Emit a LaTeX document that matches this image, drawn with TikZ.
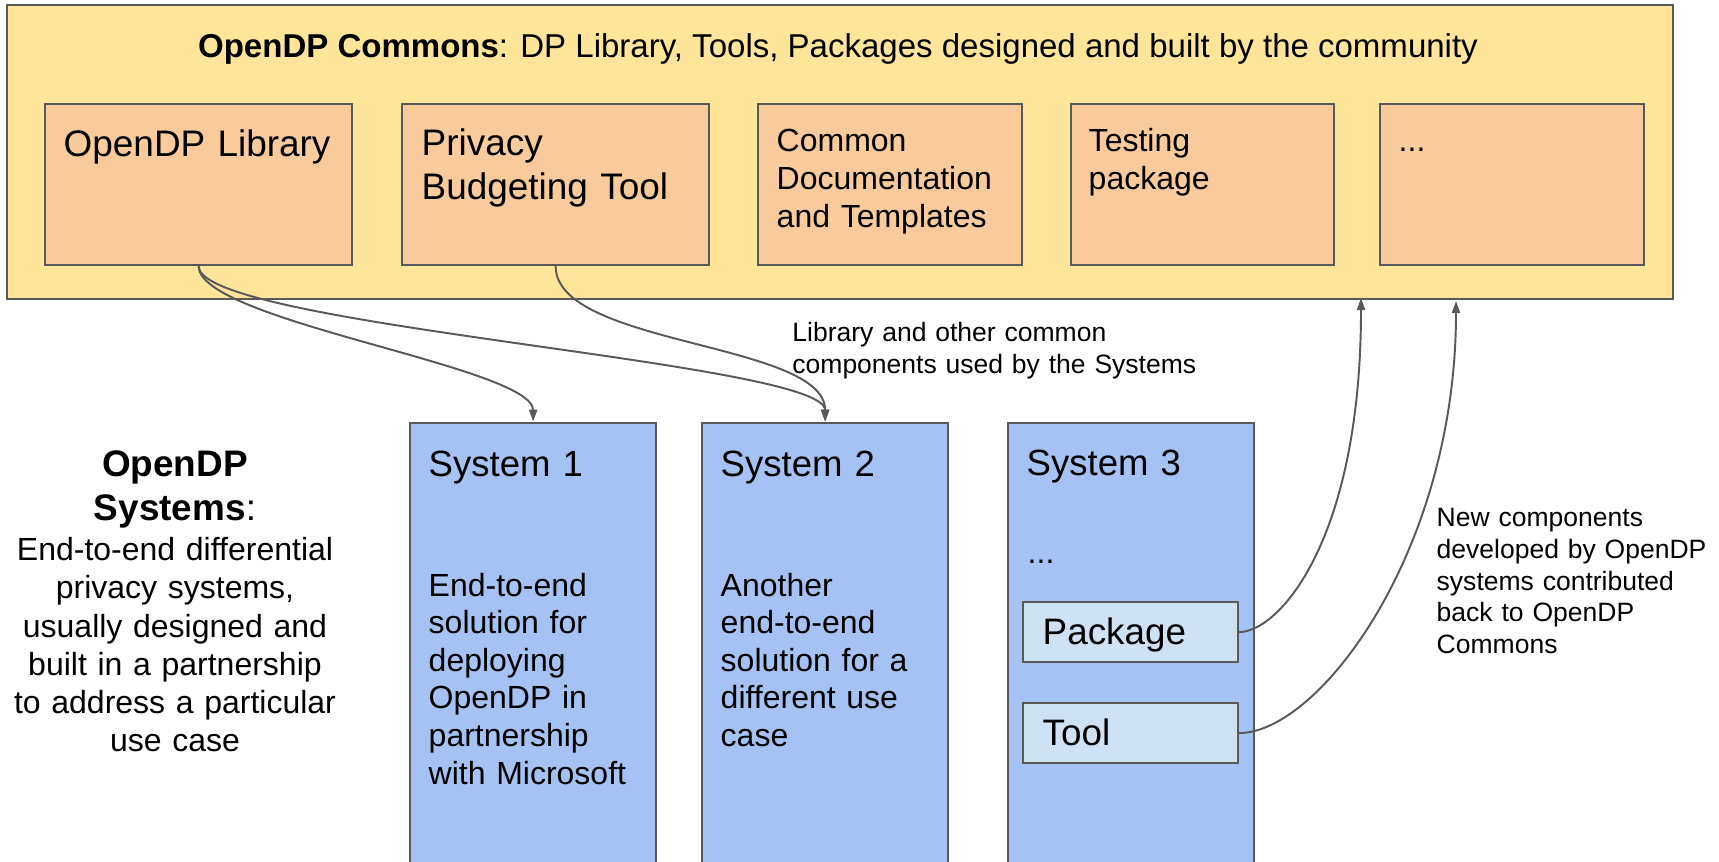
\documentclass[tikz,border=0pt]{standalone}
\usepackage{fontspec}
\setmainfont{Liberation Sans}
\usepackage{tikz}
\usetikzlibrary{arrows.meta}
\usepackage{xcolor}
\definecolor{dpyellow}{RGB}{255,229,153}
\definecolor{dporange}{RGB}{249,203,156}
\definecolor{dpblue}{RGB}{164,194,244}
\definecolor{dplightblue}{RGB}{207,226,243}
\definecolor{dpgray}{RGB}{89,89,89}
\tikzstyle{panel} = [rectangle, draw=dpgray, line width=0.6pt, inner sep=0pt, anchor=north west]
\tikzstyle{commonsbox} = [panel, fill=dpyellow, minimum width=16.655cm, minimum height=2.94cm]
\tikzstyle{partbox} = [panel, fill=dporange, minimum height=1.607cm]
\tikzstyle{sysbox} = [panel, fill=dpblue, minimum width=2.46cm, minimum height=5cm]
\tikzstyle{compbox} = [panel, fill=dplightblue, minimum width=2.145cm, minimum height=0.6cm]
\tikzstyle{txt} = [anchor=base west, inner sep=0pt, text width=4cm, align=left]
\tikzstyle{bigtxt} = [txt, font=\fontsize{10.5}{12.5}\selectfont]
\tikzstyle{smalltxt} = [txt, font=\fontsize{9.1}{10.7}\selectfont]
\tikzstyle{note} = [txt, font=\fontsize{7.54}{9.02}\selectfont]
\tikzstyle{arrow} = [draw=dpgray, line width=0.55pt, -{Triangle[length=0.12cm,width=0.08cm]}]

\begin{document}
\begin{tikzpicture}[x=0.01cm, y=-0.01cm]
\useasboundingbox (0,0) rectangle (1719,861);
\clip (0,0) rectangle (1719,861);

% OpenDP Commons
\node (commons) [commonsbox] at (5.5,4) {};
\node (commonstitle) [anchor=base, inner sep=0pt, font=\fontsize{9.39}{11}\selectfont] at (838,58)
  {\textbf{OpenDP Commons}: DP Library, Tools, Packages designed and built by the community};

\node (lib) [partbox, minimum width=3.07cm] at (44,103.3) {};
\node (budget) [partbox, minimum width=3.07cm] at (401,103.3) {};
\node (docs) [partbox, minimum width=2.64cm] at (757,103.3) {};
\node (testing) [partbox, minimum width=2.63cm] at (1070,103.3) {};
\node (more) [partbox, minimum width=2.64cm] at (1379,103.3) {};

\node (libtxt) [bigtxt] at (63,157) {OpenDP Library};
\node (budgettxt) [bigtxt] at (421,156) {Privacy\\Budgeting Tool};
\node (docstxt) [smalltxt] at (776,152) {Common\\Documentation\\and Templates};
\node (testingtxt) [smalltxt] at (1088,152) {Testing\\package};
\node (moretxt) [smalltxt] at (1398,152) {...};

% OpenDP Systems
\node (sysheading) [txt, anchor=base, text width=3.4cm, align=center, font=\fontsize{10.5}{12.5}\selectfont] at (175,476.7)
  {\textbf{OpenDP}\\\textbf{Systems}:};
\node (sysdesc) [txt, anchor=base, text width=3.4cm, align=center, font=\fontsize{9.1}{10.87}\selectfont] at (175,560.7)
  {End-to-end differential\\privacy systems,\\usually designed and\\built in a partnership\\to address a particular\\use case};

\node (sys1) [sysbox] at (409,421.7) {};
\node (sys2) [sysbox] at (701,421.7) {};
\node (sys3) [sysbox, minimum width=2.465cm] at (1006.5,421.7) {};

\node (sys1title) [bigtxt, font=\fontsize{10.39}{12.5}\selectfont] at (428,476) {System 1};
\node (sys1txt) [smalltxt] at (428,596) {End-to-end\\solution for\\deploying\\OpenDP in\\partnership\\with Microsoft};
\node (sys2title) [bigtxt, font=\fontsize{10.39}{12.5}\selectfont] at (720,476) {System 2};
\node (sys2txt) [smalltxt] at (720,596) {Another\\end-to-end\\solution for a\\different use\\case};
\node (sys3title) [bigtxt, font=\fontsize{10.39}{12.5}\selectfont] at (1026,475) {System 3};
\node (sys3dots) [smalltxt] at (1027,563) {...};

\node (pkg) [compbox] at (1022.3,601) {};
\node (tool) [compbox] at (1022.3,702) {};
\node (pkgtxt) [bigtxt, font=\fontsize{10.47}{12.5}\selectfont] at (1042,644) {Package};
\node (tooltxt) [bigtxt, font=\fontsize{10.47}{12.5}\selectfont] at (1042,745) {Tool};

% Labels
\node (usedlabel) [note, text width=4.8cm] at (791.7,341.7) {Library and other common\\components used by the Systems};
\node (backlabel) [note, text width=2.83cm] at (1436,526.7)
  {New components\\developed by OpenDP\\systems contributed\\back to OpenDP\\Commons};

% Connections
\coordinate (retpkg) at (1361,298);
\coordinate (rettool) at (1456,301);
\draw[arrow] (lib.south) .. controls +(0,55) and +(0,-55) .. (sys1.north);
\draw[arrow] (lib.south) .. controls +(0,60) and +(0,-60) .. (sys2.north);
\draw[arrow] (budget.south) .. controls +(0,80) and +(0,-80) .. (sys2.north);
\draw[arrow] (pkg.east) .. controls +(40,0) and +(0,242) .. (retpkg);
\draw[arrow] (tool.east) .. controls +(80,0) and +(0,250) .. (rettool);
\end{tikzpicture}
\end{document}
